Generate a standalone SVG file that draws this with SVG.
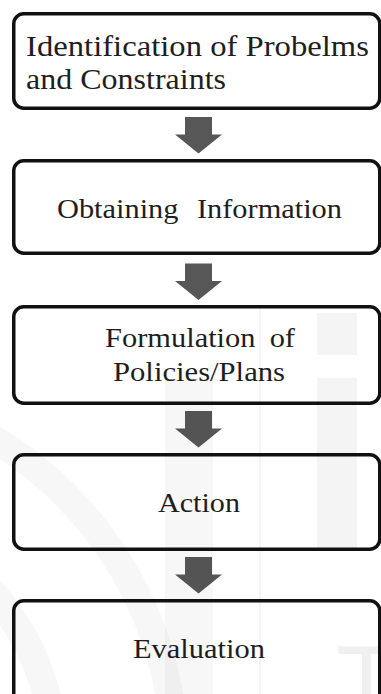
<svg xmlns="http://www.w3.org/2000/svg" xmlns:xlink="http://www.w3.org/1999/xlink" width="381" height="694" viewBox="0 0 381 694">
  <style>
    .box { fill: #ffffff; stroke: #111111; stroke-width: 3.5; }
    .lbl { fill: #1e1e1e; font-family: 'Liberation Serif', 'DejaVu Serif', 'Noto Serif', serif; }
    .mid { text-anchor: middle; }
    .arr { fill: #575757; }
    .wm { fill: #000000; fill-opacity: 0.045; }
  </style>
  <defs>
    <path id="arrow" d="M-13.5,0 H13.5 V17.5 H23.5 L0,36.5 L-23.5,17.5 H-13.5 Z"/>
  </defs>
  <rect x="0" y="0" width="381" height="694" fill="#ffffff"/>

  <g id="connectors">
    <use xlink:href="#arrow" class="arr" x="198.5" y="117"/>
    <use xlink:href="#arrow" class="arr" x="198.5" y="263.5"/>
    <use xlink:href="#arrow" class="arr" x="198.5" y="411"/>
    <use xlink:href="#arrow" class="arr" x="198.5" y="557"/>
  </g>

  <g id="node-identification">
    <rect class="box" x="13.75" y="13.75" width="366" height="94.5" rx="10"/>
    <text class="lbl" font-family="'DejaVu Serif', serif" font-size="30" x="26" y="56" textLength="343" lengthAdjust="spacingAndGlyphs">Identification of Probelms</text>
    <text class="lbl" font-family="'DejaVu Serif', serif" font-size="30" x="26" y="89" textLength="200" lengthAdjust="spacingAndGlyphs">and Constraints</text>
  </g>

  <g id="node-obtaining">
    <rect class="box" x="13.75" y="160.75" width="366" height="92.5" rx="10"/>
    <text class="lbl" font-family="'DejaVu Serif', serif" font-size="28" x="57" y="218" word-spacing="10" textLength="285" lengthAdjust="spacingAndGlyphs">Obtaining Information</text>
  </g>

  <g id="node-formulation">
    <rect class="box" x="13.75" y="306.75" width="366" height="96.5" rx="10"/>
    <text class="lbl" font-family="'DejaVu Serif', serif" font-size="28" x="105" y="347" word-spacing="6" textLength="190" lengthAdjust="spacingAndGlyphs">Formulation of</text>
    <text class="lbl" font-family="'DejaVu Serif', serif" font-size="28" x="113" y="381" textLength="172" lengthAdjust="spacingAndGlyphs">Policies/Plans</text>
  </g>

  <g id="node-action">
    <rect class="box" x="13.75" y="454.75" width="366" height="94.5" rx="10"/>
    <text class="lbl" font-family="'DejaVu Serif', serif" font-size="28" x="158" y="512" textLength="82" lengthAdjust="spacingAndGlyphs">Action</text>
  </g>

  <g id="node-evaluation">
    <rect class="box" x="13.75" y="600.75" width="366" height="120" rx="10"/>
    <text class="lbl" font-family="'DejaVu Serif', serif" font-size="28" x="133" y="658" textLength="132" lengthAdjust="spacingAndGlyphs">Evaluation</text>
  </g>

  <g id="watermark">
    <rect x="259.5" y="305" width="1" height="389" fill="#000" fill-opacity="0.09"/>
    <rect class="wm" x="317" y="313" width="40" height="42"/>
    <rect class="wm" x="317" y="378" width="40" height="172"/>
    <rect x="165" y="378" width="48" height="316" fill="#000" fill-opacity="0.03"/>
    <circle cx="-200" cy="760" r="375" fill="none" stroke="#000" stroke-opacity="0.03" stroke-width="28"/>
    <circle cx="-200" cy="760" r="255" fill="none" stroke="#000" stroke-opacity="0.03" stroke-width="28"/>
    <text x="336" y="715" font-family="'Liberation Sans', Arial, sans-serif" font-size="100" fill="#000" fill-opacity="0.06">T</text>
  </g>
</svg>
